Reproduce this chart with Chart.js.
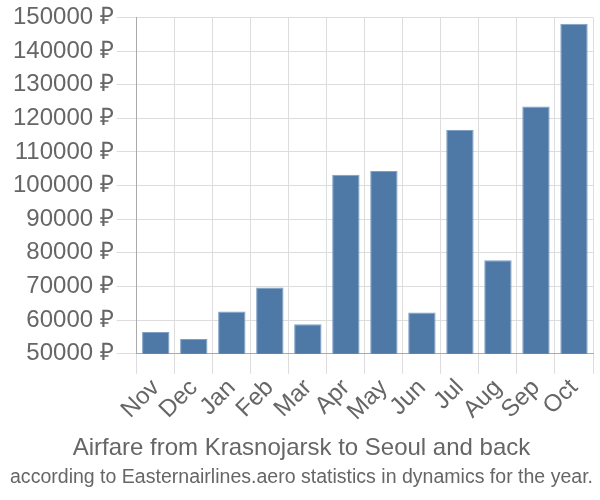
<!DOCTYPE html>
<html>
  <head>
    <script src="https://cdn.jsdelivr.net/npm/chart.js"></script>
    <style>
      body { margin: 0; background: #fff; }
      .chart-box { width: 600px; height: 500px; }
    </style>
  </head>
  <body>
    <div class="chart-box">
      <canvas id="fareChart"></canvas>
    </div>
    <script>
      var months = ['Nov', 'Dec', 'Jan', 'Feb', 'Mar', 'Apr', 'May', 'Jun', 'Jul', 'Aug', 'Sep', 'Oct'];
      var prices = [56500, 54400, 62600, 69700, 58800, 103200, 104300, 62300, 116500, 77800, 123500, 148100];
      var yMin = 50000;
      var yMax = 150000;
      var yStep = 10000;

      Chart.defaults.font.family = '"Liberation Sans", Arial, sans-serif';
      Chart.defaults.color = '#666';

      var ctx = document.getElementById('fareChart').getContext('2d');
      new Chart(ctx, {
        type: 'bar',
        data: {
          labels: months,
          datasets: [{
            label: 'Airfare',
            data: prices,
            backgroundColor: '#4e79a7',
            borderColor: '#7f9fc4',
            borderWidth: 1
          }]
        },
        options: {
          responsive: true,
          maintainAspectRatio: false,
          animation: false,
          layout: { padding: { top: 0, right: 7, left: 10, bottom: 0 } },
          plugins: {
            legend: { display: false },
            tooltip: { enabled: false },
            title: {
              display: true,
              position: 'bottom',
              weight: 1000,
              text: 'Airfare from Krasnojarsk to Seoul and back',
              font: { size: 24, weight: 'normal' },
              padding: { top: 8, bottom: 2 }
            },
            subtitle: {
              display: true,
              position: 'bottom',
              text: 'according to Easternairlines.aero statistics in dynamics for the year.',
              font: { size: 20 },
              padding: { top: 0, bottom: 11 }
            }
          },
          scales: {
            x: {
              grid: { color: '#ddd', tickLength: 20, offset: true },
              border: { color: '#aaa' },
              ticks: { font: { size: 24 }, maxRotation: 45, minRotation: 45, autoSkip: false, padding: 0 }
            },
            y: {
              min: yMin,
              max: yMax,
              grid: { color: '#ddd', tickLength: 20 },
              border: { color: '#aaa' },
              ticks: {
                stepSize: yStep,
                font: { size: 24 },
                padding: 3,
                callback: function(v) { return v + ' ₽'; }
              }
            }
          }
        }
      });
    </script>
  </body>
</html>
